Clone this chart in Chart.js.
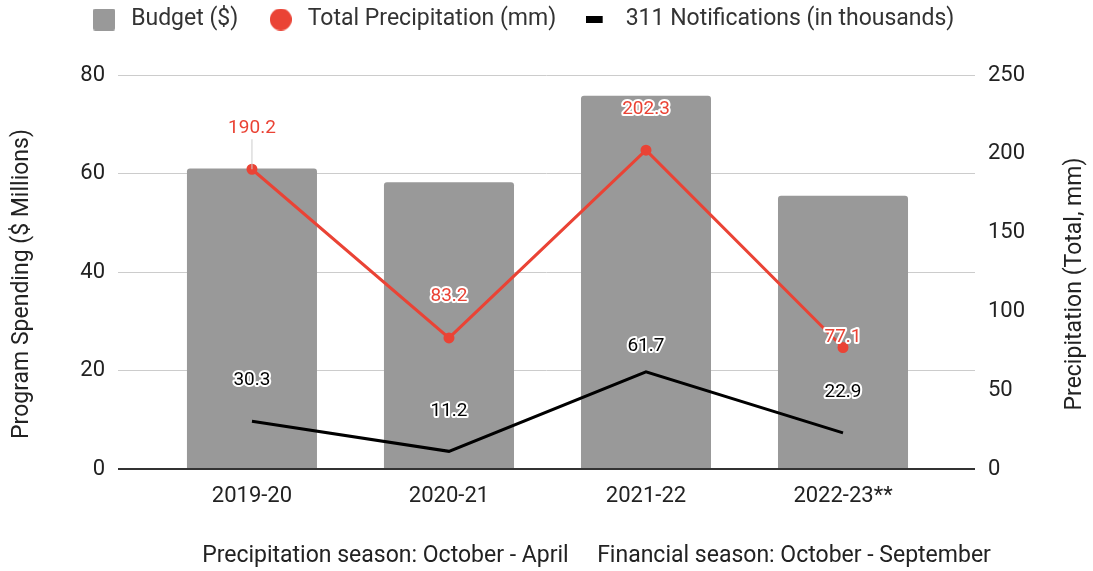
<!DOCTYPE html>
<html>
<head>
<meta charset="utf-8">
<script src="https://cdn.jsdelivr.net/npm/chart.js@4.4.1/dist/chart.umd.min.js"></script>
<style>
  html, body { margin: 0; padding: 0; background: #fff; }
  #wrap { width: 1093px; height: 571px; }
</style>
</head>
<body>
<div id="wrap"><canvas id="chart" width="1093" height="571"></canvas></div>
<script>
// ---- data ----
const seasons = ["2019-20", "2020-21", "2021-22", "2022-23**"];
const budget = [61.0, 58.2, 75.8, 55.5];          // $ millions
const precipitation = [190.2, 83.2, 202.3, 77.1];  // mm
const notifications = [30.3, 11.2, 61.7, 22.9];    // thousands
const leftTicks = [0, 20, 40, 60, 80];
const rightTicks = [0, 50, 100, 150, 200, 250];
const leftTitle = "Program Spending ($ Millions)";
const rightTitle = "Precipitation (Total, mm)";
const footNote = "Precipitation season: October - April     Financial season: October - September";

// label placement (px above point)
const precipLabelLift = [41, 42, 41, 10];
const notifLabelLift = [41, 40, 26, 41];

const FONT = "Roboto, 'Liberation Sans', Arial, sans-serif";
const TXT = "#222";
const RED = "#ea4335";
const GREY = "#999999";

// legend markers
function marker(w, h, draw) {
  const c = document.createElement("canvas");
  c.width = w; c.height = h;
  draw(c.getContext("2d"));
  return c;
}
const boxMark = marker(22, 22, g => { g.fillStyle = GREY; g.beginPath(); g.roundRect(0, 0, 22, 22, 2); g.fill(); });
const dotMark = marker(22, 22, g => { g.fillStyle = RED; g.beginPath(); g.arc(11, 11, 11, 0, Math.PI * 2); g.fill(); });
// dash sits a bit left of its box
const dashMark = marker(26, 7, g => { g.fillStyle = "#000"; g.fillRect(0, 0, 17, 7); });
const marks = [boxMark, dotMark, dashMark];

const toXY = arr => arr.map((v, i) => ({ x: i, y: v }));

// make the legend block taller so the plot starts lower
const legendSpace = {
  id: "legendSpace",
  afterInit(chart) {
    const lg = chart.legend;
    const fit = lg.fit;
    lg.fit = function () { fit.call(this); this.height = 94; };
  }
};

// data labels with white halo
const valueLabels = {
  id: "valueLabels",
  afterDatasetsDraw(chart) {
    const ctx = chart.ctx;
    ctx.save();
    ctx.font = "19px Roboto, sans-serif";
    ctx.textAlign = "center";
    ctx.textBaseline = "middle";
    ctx.lineJoin = "round";
    const sets = [
      { ds: 1, vals: precipitation, lift: precipLabelLift, color: RED },
      { ds: 2, vals: notifications, lift: notifLabelLift, color: "#000" }
    ];
    sets.forEach(s => {
      const pts = chart.getDatasetMeta(s.ds).data;
      pts.forEach((p, i) => {
        const y = p.y - s.lift[i];
        if (s.ds === 1 && i === 0) {
          // leader line
          ctx.strokeStyle = "#cccccc";
          ctx.lineWidth = 1;
          ctx.beginPath();
          ctx.moveTo(p.x, y + 11);
          ctx.lineTo(p.x, p.y);
          ctx.stroke();
        }
        const txt = s.vals[i].toFixed(1);
        ctx.strokeStyle = "#fff";
        ctx.lineWidth = 4;
        ctx.strokeText(txt, p.x, y);
        ctx.fillStyle = s.color;
        ctx.fillText(txt, p.x, y);
      });
    });
    ctx.restore();
  }
};

// axis titles (both read bottom-to-top) and bottom note
const extraText = {
  id: "extraText",
  afterDraw(chart) {
    const ctx = chart.ctx;
    const ca = chart.chartArea;
    ctx.save();
    ctx.font = "23px " + FONT;
    ctx.fillStyle = TXT;
    ctx.textAlign = "center";
    ctx.textBaseline = "middle";
    ctx.fillText(footNote, (ca.left + ca.right) / 2 + 50, 556);
    const midY = (ca.top + ca.bottom) / 2 + 12;
    [[leftTitle, 22], [rightTitle, 1075]].forEach(([t, x]) => {
      ctx.save();
      ctx.translate(x, midY);
      ctx.rotate(-Math.PI / 2);
      ctx.fillText(t, 0, 0);
      ctx.restore();
    });
    ctx.restore();
  }
};

new Chart(document.getElementById("chart"), {
  type: "bar",
  data: {
    datasets: [
      {
        type: "bar",
        label: "Budget ($)",
        data: toXY(budget),
        backgroundColor: GREY,
        borderRadius: { topLeft: 3, topRight: 3 },
        borderSkipped: "bottom",
        barPercentage: 0.66,
        categoryPercentage: 1,
        yAxisID: "y",
        order: 3
      },
      {
        type: "line",
        label: "Total Precipitation (mm)",
        data: toXY(precipitation),
        borderColor: RED,
        backgroundColor: RED,
        borderWidth: 3,
        pointRadius: 4,
        pointHoverRadius: 4,
        tension: 0,
        yAxisID: "y1",
        order: 1
      },
      {
        type: "line",
        label: "311 Notifications (in thousands)",
        data: toXY(notifications),
        borderColor: "#000",
        backgroundColor: "#000",
        borderWidth: 3,
        pointRadius: 0,
        tension: 0,
        yAxisID: "y1",
        order: 2
      }
    ]
  },
  options: {
    responsive: false,
    maintainAspectRatio: false,
    animation: false,
    // right padding shifts the legend left; y1 width is reduced to match
    layout: { padding: { top: -19, left: 0, right: 50, bottom: 0 } },
    plugins: {
      tooltip: { enabled: false },
      legend: {
        position: "top",
        labels: {
          font: { family: FONT, size: 23 },
          color: "#333",
          usePointStyle: true,
          pointStyleWidth: 31,
          padding: 27,
          generateLabels(chart) {
            return chart.data.datasets.map((d, i) => ({
              text: d.label,
              pointStyle: marks[i],
              fillStyle: "transparent",
              strokeStyle: "transparent",
              lineWidth: 0,
              fontColor: "#333",
              datasetIndex: i,
              hidden: false
            }));
          }
        }
      }
    },
    scales: {
      x: {
        type: "linear",
        offset: false,
        min: -0.68,
        max: 3.67,
        afterBuildTicks(scale) {
          scale.ticks = seasons.map((s, i) => ({ value: i }));
        },
        afterFit(scale) { scale.height = 102; },
        ticks: {
          autoSkip: false,
          maxRotation: 0,
          padding: 6,
          color: TXT,
          font: { family: FONT, size: 22 },
          callback: v => seasons[v] ?? ""
        },
        grid: { display: false },
        border: { display: false }
      },
      y: {
        position: "left",
        min: 0,
        max: 80,
        afterBuildTicks(scale) { scale.ticks = leftTicks.map(v => ({ value: v })); },
        afterFit(scale) { scale.width = 118; },
        ticks: { padding: 13, color: TXT, font: { family: FONT, size: 22 } },
        grid: {
          drawTicks: false,
          color: c => (c.tick.value === 0 ? "#333" : "#cccccc"),
          lineWidth: c => (c.tick.value === 0 ? 2 : 1)
        },
        border: { display: false }
      },
      y1: {
        position: "right",
        min: 0,
        max: 250,
        afterBuildTicks(scale) { scale.ticks = rightTicks.map(v => ({ value: v })); },
        afterFit(scale) { scale.width = 68; },
        ticks: { padding: 13, color: TXT, font: { family: FONT, size: 22 } },
        grid: { drawOnChartArea: false, drawTicks: false },
        border: { display: false }
      }
    }
  },
  plugins: [legendSpace, valueLabels, extraText]
});
</script>
</body>
</html>
